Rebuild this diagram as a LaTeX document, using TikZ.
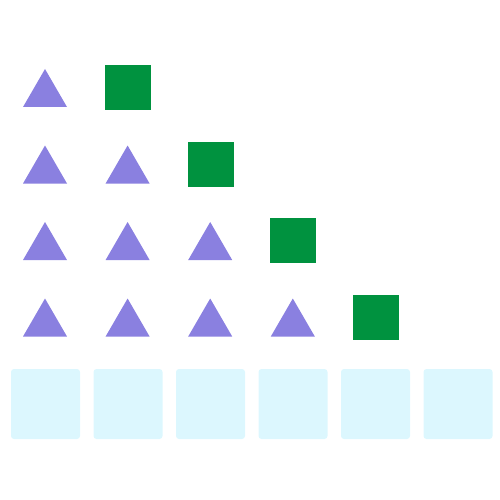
\documentclass[tikz,border=0pt]{standalone}
\definecolor{tri}{HTML}{8A80E0}
\definecolor{sq}{HTML}{00923F}
\definecolor{slot}{HTML}{DCF7FE}
\begin{document}
\begin{tikzpicture}[x=1pt,y=-1pt,
  tristyle/.style={fill=tri},
  sqstyle/.style={fill=sq},
  slotstyle/.style={fill=slot,rounded corners=3pt}]
\useasboundingbox (0,0) rectangle (500,500);
% rows
\foreach \r in {0,1,2,3}{
  \pgfmathsetmacro{\yb}{107+76.5*\r}
  \pgfmathsetmacro{\ya}{\yb-38}
  \foreach \c in {0,...,\r}{
    \pgfmathsetmacro{\xc}{45+82.6*\c}
    \fill[tristyle] (\xc-22,\yb) -- (\xc,\ya) -- (\xc+22,\yb) -- cycle;
  }
  \pgfmathsetmacro{\sx}{128+82.6*\r}
  \pgfmathsetmacro{\sy}{87.5+76.5*\r}
  \fill[sqstyle] (\sx-23,\sy-22.5) rectangle (\sx+23,\sy+22.5);
}
\foreach \c in {0,...,5}{
  \pgfmathsetmacro{\bx}{11+82.5*\c}
  \fill[slotstyle] (\bx,369) rectangle (\bx+69,439);
}
\end{tikzpicture}
\end{document}
